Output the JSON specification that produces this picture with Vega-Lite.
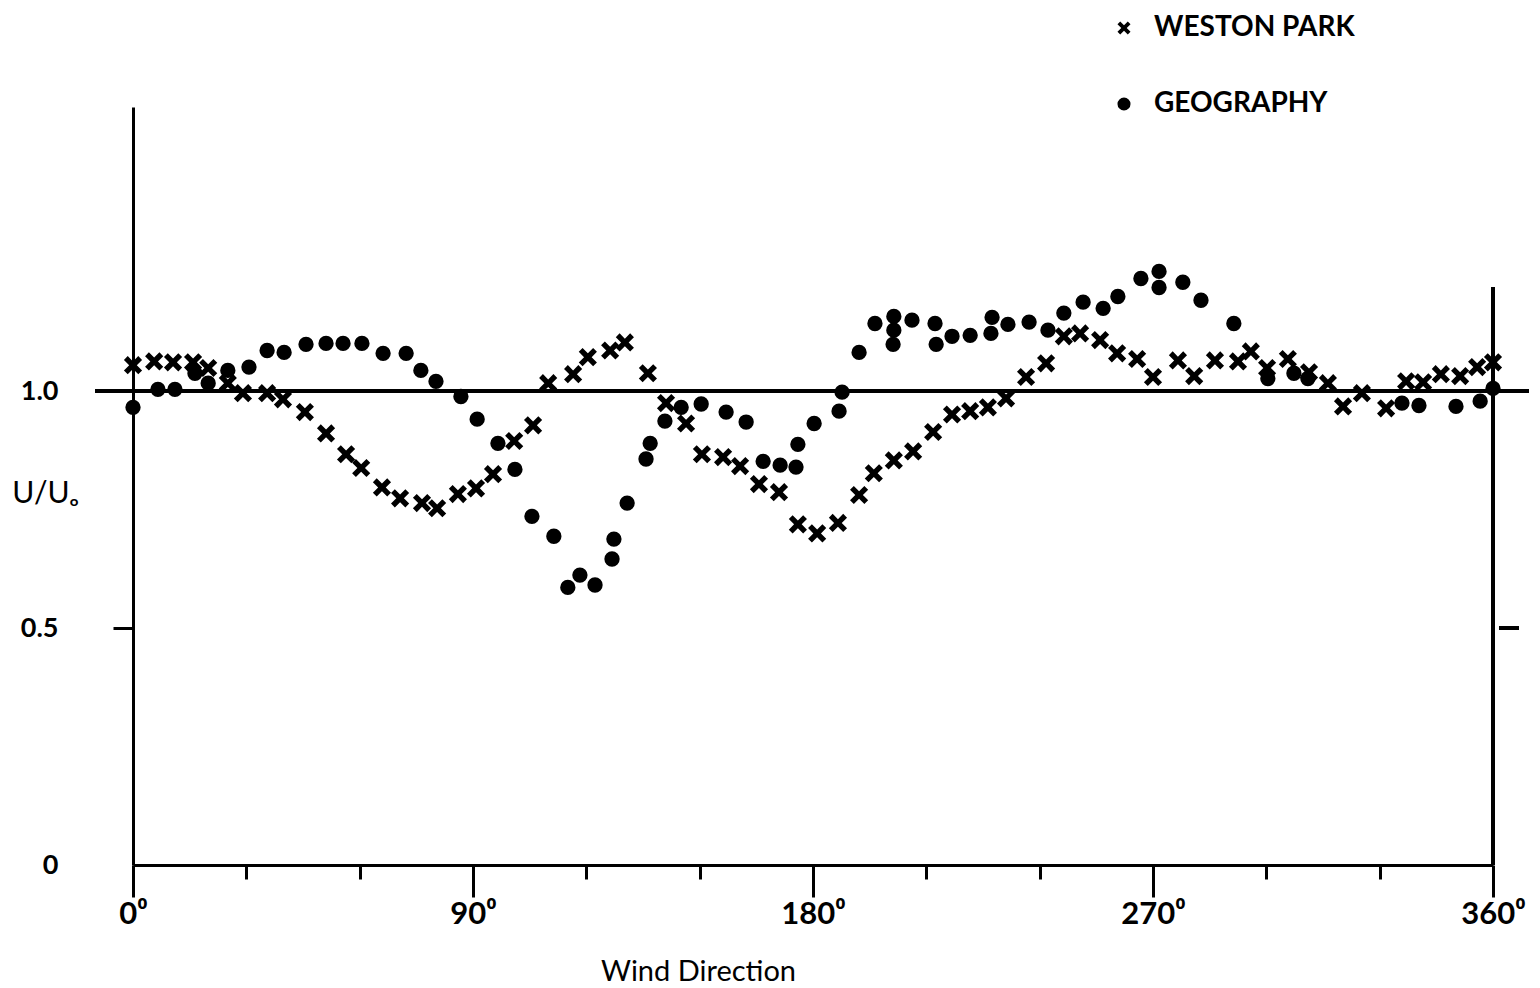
{
  "$schema": "https://vega.github.io/schema/vega-lite/v6.json",
  "autosize": "none",
  "width": 1360,
  "height": 758,
  "padding": {"left": 133, "top": 107, "right": 47, "bottom": 123},
  "background": "white",
  "config": {
    "view": {"stroke": null},
    "font": "Lato",
    "axis": {"grid": false, "domainColor": "black", "tickColor": "black", "labelColor": "black", "titleColor": "black"}
  },
  "data": {
    "values": [
      {"site": "WESTON PARK", "dir": 0, "u": 1.055},
      {"site": "WESTON PARK", "dir": 5.6, "u": 1.063},
      {"site": "WESTON PARK", "dir": 10.6, "u": 1.061},
      {"site": "WESTON PARK", "dir": 15.9, "u": 1.061},
      {"site": "WESTON PARK", "dir": 19.9, "u": 1.049},
      {"site": "WESTON PARK", "dir": 25.1, "u": 1.017},
      {"site": "WESTON PARK", "dir": 29.1, "u": 0.996},
      {"site": "WESTON PARK", "dir": 35.5, "u": 0.996},
      {"site": "WESTON PARK", "dir": 39.7, "u": 0.983},
      {"site": "WESTON PARK", "dir": 45.5, "u": 0.956},
      {"site": "WESTON PARK", "dir": 51.1, "u": 0.911},
      {"site": "WESTON PARK", "dir": 56.4, "u": 0.867},
      {"site": "WESTON PARK", "dir": 60.4, "u": 0.838},
      {"site": "WESTON PARK", "dir": 65.9, "u": 0.797},
      {"site": "WESTON PARK", "dir": 70.7, "u": 0.774},
      {"site": "WESTON PARK", "dir": 76.5, "u": 0.764},
      {"site": "WESTON PARK", "dir": 80.5, "u": 0.753},
      {"site": "WESTON PARK", "dir": 86.0, "u": 0.783},
      {"site": "WESTON PARK", "dir": 90.8, "u": 0.795},
      {"site": "WESTON PARK", "dir": 95.3, "u": 0.825},
      {"site": "WESTON PARK", "dir": 100.9, "u": 0.895},
      {"site": "WESTON PARK", "dir": 105.9, "u": 0.928},
      {"site": "WESTON PARK", "dir": 109.9, "u": 1.017},
      {"site": "WESTON PARK", "dir": 116.5, "u": 1.036},
      {"site": "WESTON PARK", "dir": 120.4, "u": 1.072},
      {"site": "WESTON PARK", "dir": 126.3, "u": 1.086},
      {"site": "WESTON PARK", "dir": 130.2, "u": 1.103},
      {"site": "WESTON PARK", "dir": 136.3, "u": 1.038},
      {"site": "WESTON PARK", "dir": 141.1, "u": 0.975},
      {"site": "WESTON PARK", "dir": 146.4, "u": 0.932},
      {"site": "WESTON PARK", "dir": 150.6, "u": 0.867},
      {"site": "WESTON PARK", "dir": 156.2, "u": 0.861},
      {"site": "WESTON PARK", "dir": 160.7, "u": 0.842},
      {"site": "WESTON PARK", "dir": 165.7, "u": 0.804},
      {"site": "WESTON PARK", "dir": 171.0, "u": 0.787},
      {"site": "WESTON PARK", "dir": 176.0, "u": 0.719},
      {"site": "WESTON PARK", "dir": 181.1, "u": 0.700},
      {"site": "WESTON PARK", "dir": 186.6, "u": 0.722},
      {"site": "WESTON PARK", "dir": 192.2, "u": 0.781},
      {"site": "WESTON PARK", "dir": 196.1, "u": 0.827},
      {"site": "WESTON PARK", "dir": 201.4, "u": 0.854},
      {"site": "WESTON PARK", "dir": 206.5, "u": 0.873},
      {"site": "WESTON PARK", "dir": 211.8, "u": 0.914},
      {"site": "WESTON PARK", "dir": 216.8, "u": 0.951},
      {"site": "WESTON PARK", "dir": 221.6, "u": 0.958},
      {"site": "WESTON PARK", "dir": 226.3, "u": 0.966},
      {"site": "WESTON PARK", "dir": 231.1, "u": 0.985},
      {"site": "WESTON PARK", "dir": 236.4, "u": 1.030},
      {"site": "WESTON PARK", "dir": 241.7, "u": 1.059},
      {"site": "WESTON PARK", "dir": 246.4, "u": 1.116},
      {"site": "WESTON PARK", "dir": 250.7, "u": 1.122},
      {"site": "WESTON PARK", "dir": 256.0, "u": 1.108},
      {"site": "WESTON PARK", "dir": 260.5, "u": 1.080},
      {"site": "WESTON PARK", "dir": 265.8, "u": 1.068},
      {"site": "WESTON PARK", "dir": 270.0, "u": 1.030},
      {"site": "WESTON PARK", "dir": 276.6, "u": 1.065},
      {"site": "WESTON PARK", "dir": 280.9, "u": 1.032},
      {"site": "WESTON PARK", "dir": 286.4, "u": 1.065},
      {"site": "WESTON PARK", "dir": 292.5, "u": 1.063},
      {"site": "WESTON PARK", "dir": 295.9, "u": 1.084},
      {"site": "WESTON PARK", "dir": 300.2, "u": 1.049},
      {"site": "WESTON PARK", "dir": 305.7, "u": 1.068},
      {"site": "WESTON PARK", "dir": 311.3, "u": 1.040},
      {"site": "WESTON PARK", "dir": 316.3, "u": 1.017},
      {"site": "WESTON PARK", "dir": 320.3, "u": 0.968},
      {"site": "WESTON PARK", "dir": 325.3, "u": 0.996},
      {"site": "WESTON PARK", "dir": 331.7, "u": 0.964},
      {"site": "WESTON PARK", "dir": 337.0, "u": 1.021},
      {"site": "WESTON PARK", "dir": 341.5, "u": 1.019},
      {"site": "WESTON PARK", "dir": 346.2, "u": 1.036},
      {"site": "WESTON PARK", "dir": 351.3, "u": 1.032},
      {"site": "WESTON PARK", "dir": 355.8, "u": 1.051},
      {"site": "WESTON PARK", "dir": 360, "u": 1.061},
      {"site": "GEOGRAPHY", "dir": 0, "u": 0.966},
      {"site": "GEOGRAPHY", "dir": 6.6, "u": 1.004},
      {"site": "GEOGRAPHY", "dir": 11.1, "u": 1.004},
      {"site": "GEOGRAPHY", "dir": 16.4, "u": 1.038},
      {"site": "GEOGRAPHY", "dir": 19.9, "u": 1.017},
      {"site": "GEOGRAPHY", "dir": 25.1, "u": 1.044},
      {"site": "GEOGRAPHY", "dir": 30.7, "u": 1.051},
      {"site": "GEOGRAPHY", "dir": 35.5, "u": 1.086},
      {"site": "GEOGRAPHY", "dir": 40.0, "u": 1.082},
      {"site": "GEOGRAPHY", "dir": 45.8, "u": 1.099},
      {"site": "GEOGRAPHY", "dir": 51.1, "u": 1.101},
      {"site": "GEOGRAPHY", "dir": 55.6, "u": 1.101},
      {"site": "GEOGRAPHY", "dir": 60.6, "u": 1.101},
      {"site": "GEOGRAPHY", "dir": 66.2, "u": 1.080},
      {"site": "GEOGRAPHY", "dir": 72.3, "u": 1.080},
      {"site": "GEOGRAPHY", "dir": 76.2, "u": 1.044},
      {"site": "GEOGRAPHY", "dir": 80.2, "u": 1.021},
      {"site": "GEOGRAPHY", "dir": 86.8, "u": 0.989},
      {"site": "GEOGRAPHY", "dir": 91.1, "u": 0.941},
      {"site": "GEOGRAPHY", "dir": 96.6, "u": 0.890},
      {"site": "GEOGRAPHY", "dir": 101.1, "u": 0.835},
      {"site": "GEOGRAPHY", "dir": 105.6, "u": 0.736},
      {"site": "GEOGRAPHY", "dir": 111.4, "u": 0.694},
      {"site": "GEOGRAPHY", "dir": 115.1, "u": 0.586},
      {"site": "GEOGRAPHY", "dir": 118.3, "u": 0.612},
      {"site": "GEOGRAPHY", "dir": 122.3, "u": 0.591},
      {"site": "GEOGRAPHY", "dir": 126.8, "u": 0.646},
      {"site": "GEOGRAPHY", "dir": 127.3, "u": 0.688},
      {"site": "GEOGRAPHY", "dir": 130.8, "u": 0.764},
      {"site": "GEOGRAPHY", "dir": 135.8, "u": 0.857},
      {"site": "GEOGRAPHY", "dir": 136.9, "u": 0.890},
      {"site": "GEOGRAPHY", "dir": 140.8, "u": 0.937},
      {"site": "GEOGRAPHY", "dir": 145.1, "u": 0.966},
      {"site": "GEOGRAPHY", "dir": 150.4, "u": 0.973},
      {"site": "GEOGRAPHY", "dir": 157.0, "u": 0.956},
      {"site": "GEOGRAPHY", "dir": 162.3, "u": 0.935},
      {"site": "GEOGRAPHY", "dir": 166.8, "u": 0.852},
      {"site": "GEOGRAPHY", "dir": 171.3, "u": 0.844},
      {"site": "GEOGRAPHY", "dir": 175.5, "u": 0.840},
      {"site": "GEOGRAPHY", "dir": 176.0, "u": 0.888},
      {"site": "GEOGRAPHY", "dir": 180.3, "u": 0.932},
      {"site": "GEOGRAPHY", "dir": 186.9, "u": 0.958},
      {"site": "GEOGRAPHY", "dir": 187.7, "u": 0.998},
      {"site": "GEOGRAPHY", "dir": 192.2, "u": 1.082},
      {"site": "GEOGRAPHY", "dir": 196.4, "u": 1.143},
      {"site": "GEOGRAPHY", "dir": 201.4, "u": 1.158},
      {"site": "GEOGRAPHY", "dir": 201.4, "u": 1.129},
      {"site": "GEOGRAPHY", "dir": 201.2, "u": 1.099},
      {"site": "GEOGRAPHY", "dir": 206.2, "u": 1.150},
      {"site": "GEOGRAPHY", "dir": 212.3, "u": 1.143},
      {"site": "GEOGRAPHY", "dir": 212.6, "u": 1.099},
      {"site": "GEOGRAPHY", "dir": 216.8, "u": 1.116},
      {"site": "GEOGRAPHY", "dir": 221.6, "u": 1.118},
      {"site": "GEOGRAPHY", "dir": 227.4, "u": 1.156},
      {"site": "GEOGRAPHY", "dir": 227.1, "u": 1.122},
      {"site": "GEOGRAPHY", "dir": 231.6, "u": 1.141},
      {"site": "GEOGRAPHY", "dir": 237.2, "u": 1.146},
      {"site": "GEOGRAPHY", "dir": 242.2, "u": 1.129},
      {"site": "GEOGRAPHY", "dir": 246.4, "u": 1.165},
      {"site": "GEOGRAPHY", "dir": 251.5, "u": 1.188},
      {"site": "GEOGRAPHY", "dir": 256.8, "u": 1.175},
      {"site": "GEOGRAPHY", "dir": 260.7, "u": 1.200},
      {"site": "GEOGRAPHY", "dir": 266.8, "u": 1.238},
      {"site": "GEOGRAPHY", "dir": 271.6, "u": 1.253},
      {"site": "GEOGRAPHY", "dir": 271.6, "u": 1.219},
      {"site": "GEOGRAPHY", "dir": 277.9, "u": 1.230},
      {"site": "GEOGRAPHY", "dir": 282.7, "u": 1.192},
      {"site": "GEOGRAPHY", "dir": 291.4, "u": 1.143},
      {"site": "GEOGRAPHY", "dir": 300.4, "u": 1.027},
      {"site": "GEOGRAPHY", "dir": 307.3, "u": 1.038},
      {"site": "GEOGRAPHY", "dir": 311.0, "u": 1.027},
      {"site": "GEOGRAPHY", "dir": 335.9, "u": 0.975},
      {"site": "GEOGRAPHY", "dir": 340.4, "u": 0.970},
      {"site": "GEOGRAPHY", "dir": 350.2, "u": 0.968},
      {"site": "GEOGRAPHY", "dir": 356.6, "u": 0.979},
      {"site": "GEOGRAPHY", "dir": 360, "u": 1.006}
    ]
  },
  "layer": [
    {
      "mark": {"type": "point", "filled": true, "color": "black", "strokeWidth": 0, "opacity": 1, "clip": false},
      "encoding": {
        "x": {
          "field": "dir", "type": "quantitative",
          "scale": {"domain": [0, 360], "nice": false, "zero": false},
          "axis": {
            "values": [0, 30, 60, 90, 120, 150, 180, 210, 240, 270, 300, 330, 360],
            "tickSize": {"condition": {"test": "datum.value % 90 === 0", "value": 32}, "value": 14},
            "tickWidth": 3,
            "domainWidth": 3,
            "labelExpr": "datum.value % 90 === 0 ? datum.value + '⁰' : ''",
            "labelFontSize": 31,
            "labelFont": "Lato",
            "labelFontWeight": "bold",
            "labelPadding": 2,
            "labelFlush": false,
            "labelOverlap": false,
            "title": "Wind Direction",
            "titleFontSize": 29,
            "titleFontWeight": "normal",
            "titleFont": "Lato",
            "titleX": 565,
            "titleY": 115,
            "titleAlign": "center",
            "titleBaseline": "alphabetic"
          }
        },
        "y": {
          "field": "u", "type": "quantitative",
          "scale": {"domain": [0, 1.6], "nice": false, "zero": false},
          "axis": {
            "values": [0, 0.5, 1],
            "tickSize": 20,
            "tickWidth": 3,
            "tickOpacity": {"condition": {"test": "datum.value === 0.5", "value": 1}, "value": 0},
            "domainWidth": 3,
            "labelExpr": "datum.value === 0 ? '0' : format(datum.value, '.1f')",
            "labelFontSize": 27,
            "labelFont": "Lato",
            "labelFontWeight": "bold",
            "labelPadding": 55,
            "labelAlign": "right",
            "labelBaseline": "middle",
            "title": "U/Uₒ",
            "titleAngle": 0,
            "titleFontSize": 30,
            "titleFontWeight": "normal",
            "titleFont": "Lato",
            "titleX": -88,
            "titleY": 386,
            "titleAlign": "center",
            "titleBaseline": "middle"
          }
        },
        "shape": {
          "field": "site", "type": "nominal",
          "scale": {"domain": ["WESTON PARK", "GEOGRAPHY"], "range": ["M-1,-0.58L-0.58,-1L0,-0.42L0.58,-1L1,-0.58L0.42,0L1,0.58L0.58,1L0,0.42L-0.58,1L-1,0.58L-0.42,0Z", "circle"]},
          "legend": {
            "orient": "none",
            "legendX": 977,
            "legendY": -93,
            "title": null,
            "labelFontSize": 28,
            "labelFont": "Lato",
            "labelFontWeight": "bold",
            "labelColor": "black",
            "labelLimit": 0,
            "symbolSize": 170,
            "symbolStrokeWidth": 0,
            "symbolFillColor": "black",
            "rowPadding": 48,
            "labelOffset": 16,
            "encode": {
              "symbols": {
                "update": {
                  "fill": {"value": "black"},
                  "opacity": {"value": 1}
                }
              }
            }
          }
        },
        "size": {"condition": {"test": "datum.site === 'WESTON PARK'", "value": 330}, "value": 235}
      }
    },
    {
      "mark": {"type": "rule", "color": "black", "strokeWidth": 3, "clip": false},
      "encoding": {
        "x": {"datum": -10},
        "x2": {"datum": 369.3},
        "y": {"datum": 1}
      }
    },
    {
      "mark": {"type": "rule", "color": "black", "strokeWidth": 3, "clip": false},
      "encoding": {
        "x": {"datum": 360},
        "y": {"datum": 0},
        "y2": {"datum": 1.22}
      }
    },
    {
      "mark": {"type": "rule", "color": "black", "strokeWidth": 3, "clip": false},
      "encoding": {
        "x": {"datum": 361.8},
        "x2": {"datum": 366.8},
        "y": {"datum": 0.5}
      }
    }
  ]
}
